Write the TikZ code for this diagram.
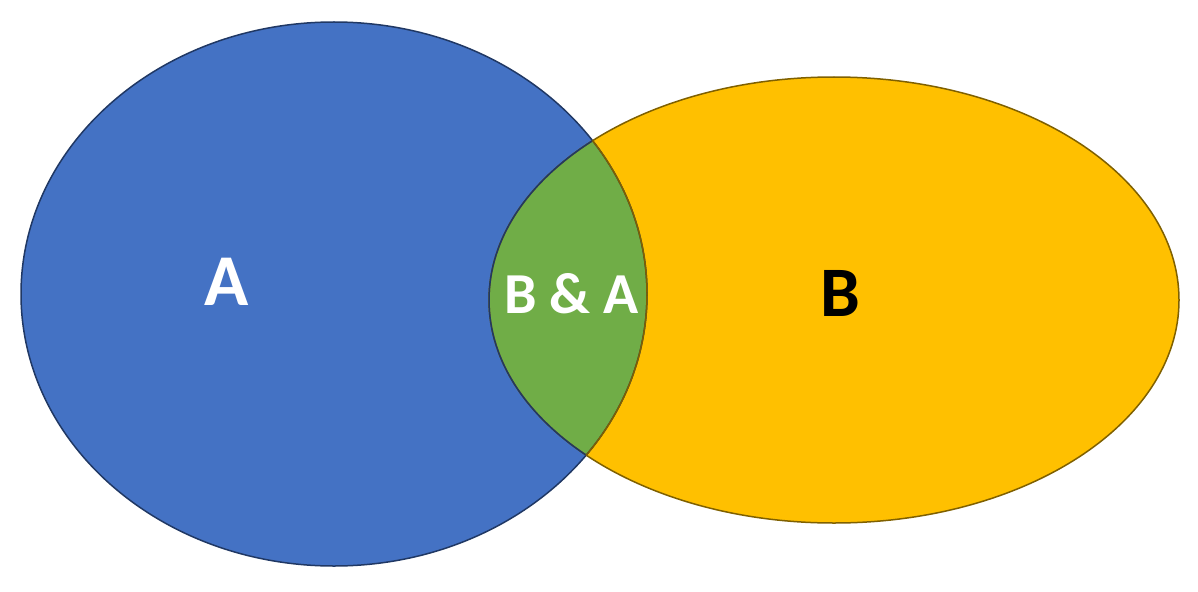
\documentclass[tikz,border=0pt]{standalone}
\usepackage{fontspec}
\setmainfont{Carlito}
\definecolor{ablue}{HTML}{4472C4}
\definecolor{abluedark}{HTML}{203864}
\definecolor{bgold}{HTML}{FFC000}
\definecolor{bgolddark}{HTML}{7F6000}
\definecolor{abgreen}{HTML}{70AD47}
\tikzset{
  lbl/.style={inner sep=0pt, anchor=base},
  outl/.style={line width=1.5pt}
}
\begin{document}
\begin{tikzpicture}[x=1pt,y=-1pt]
\useasboundingbox (0,0) rectangle (1198,591);
\def\ellA{(334,294) ellipse [x radius=313, y radius=272]}
\def\ellB{(834,300) ellipse [x radius=345, y radius=223]}
\fill[ablue] \ellA;
\fill[bgold] \ellB;
\begin{scope}
  \clip \ellA;
  \fill[abgreen] \ellB;
\end{scope}
\draw[outl, abluedark] \ellA;
\draw[outl, bgolddark] \ellB;
\begin{scope}
  \clip \ellA;
  \draw[outl, abluedark] \ellB;
\end{scope}
\begin{scope}
  \clip \ellB;
  \draw[outl, bgolddark] \ellA;
\end{scope}
\node[lbl, text=white, font=\bfseries\fontsize{73}{80}\selectfont] (a) at (226.5,305) {A};
\node[lbl, text=white, font=\bfseries\fontsize{58}{64}\selectfont] (ab) at (571.5,313) {B \& A};
\node[lbl, text=black, font=\bfseries\fontsize{71}{78}\selectfont] (b) at (840.5,316) {B};
\end{tikzpicture}
\end{document}
